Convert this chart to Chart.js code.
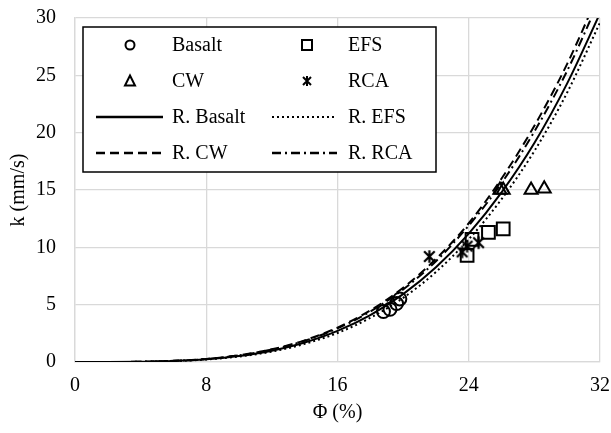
<!DOCTYPE html>
<html>
<head>
<meta charset="utf-8">
<script src="https://cdn.jsdelivr.net/npm/chart.js@4/dist/chart.umd.min.js"></script>
<style>
  html, body { margin: 0; padding: 0; background: #fff; font-family: "Liberation Serif", serif; }
  #wrap { width: 611px; height: 433px; position: relative; }
</style>
</head>
<body>
<div id="wrap"><canvas id="c" width="611" height="433"></canvas></div>
<script>
// ---- data ----
const basaltPhi = [18.8, 19.2, 19.6, 19.8];
const basaltK   = [4.4, 4.6, 5.1, 5.5];
const efsPhi    = [23.9, 24.2, 25.2, 26.1];
const efsK      = [9.3, 10.7, 11.3, 11.6];
const cwPhi     = [25.9, 26.1, 27.8, 28.6];
const cwK       = [15.0, 15.0, 15.0, 15.1];
const rcaPhi    = [21.6, 23.6, 23.9, 24.6];
const rcaK      = [9.2, 9.6, 10.1, 10.4];

// regression curves
const curvePhi   = [0, 2, 4, 6, 8, 10, 12, 14, 16, 18, 20, 22, 24, 26, 28, 30, 32];
const rBasaltK   = [0, 0.00, 0.02, 0.09, 0.24, 0.52, 0.99, 1.70, 2.71, 4.09, 5.92, 8.26, 11.2, 14.8, 19.1, 24.3, 30.4];
const rEfsK      = [0, 0.00, 0.02, 0.08, 0.22, 0.48, 0.91, 1.58, 2.53, 3.85, 5.59, 7.85, 10.7, 14.2, 18.4, 23.5, 29.6];
const rCwK       = [0, 0.00, 0.03, 0.10, 0.27, 0.59, 1.11, 1.89, 3.00, 4.50, 6.47, 8.99, 12.1, 16.0, 20.6, 26.0, 32.4];
const rRcaK      = [0, 0.00, 0.02, 0.10, 0.26, 0.58, 1.09, 1.85, 2.93, 4.40, 6.33, 8.79, 11.9, 15.6, 20.1, 25.4, 31.7];

const xTicks = [0, 8, 16, 24, 32];
const yTicks = [0, 5, 10, 15, 20, 25, 30];
const xTitle = 'Φ (%)';
const yTitle = 'k (mm/s)';
const legendLabels = ['Basalt', 'EFS', 'CW', 'RCA', 'R. Basalt', 'R. EFS', 'R. CW', 'R. RCA'];

const FONT = "'Liberation Serif', 'Times New Roman', serif";

function pts(xs, ys) { return xs.map((x, i) => ({ x: x, y: ys[i] })); }

function starCanvas(size, lw) {
  const c = document.createElement('canvas');
  c.width = size; c.height = size;
  const g = c.getContext('2d');
  g.strokeStyle = '#000'; g.lineWidth = lw;
  const m = lw, s = size - lw;
  g.beginPath();
  g.moveTo(m, m); g.lineTo(s, s);
  g.moveTo(s, m); g.lineTo(m, s);
  g.moveTo(size / 2, m - 1); g.lineTo(size / 2, s + 1);
  g.stroke();
  return c;
}

const lineBase = { showLine: true, pointRadius: 0, borderColor: '#000', borderWidth: 2, fill: false, cubicInterpolationMode: 'monotone' };
const ptBase = { showLine: false, borderColor: '#000', backgroundColor: 'rgba(0,0,0,0)', pointBorderWidth: 2, pointHoverRadius: 0 };

const dashes = { solid: [], dotted: [2, 3], dashed: [9, 5], dashdot: [9, 4, 2, 4] };

const legendPlugin = {
  id: 'boxLegend',
  afterDraw(chart) {
    const ctx = chart.ctx;
    const L = 83, T = 27, R = 436, B = 172;
    ctx.save();
    ctx.fillStyle = '#fff';
    ctx.fillRect(L, T, R - L, B - T);
    ctx.strokeStyle = '#000';
    ctx.lineWidth = 1.5;
    ctx.strokeRect(L, T, R - L, B - T);
    const rows = [45, 81, 117, 153];
    const cols = [{ sym: 130, l0: 96, l1: 163, tx: 172 }, { sym: 307, l0: 272, l1: 337, tx: 348 }];
    const items = [
      { kind: 'circle' }, { kind: 'rect' }, { kind: 'tri' }, { kind: 'star' },
      { kind: 'line', dash: dashes.solid, w: 2.5 }, { kind: 'line', dash: dashes.dotted, w: 2 },
      { kind: 'line', dash: dashes.dashed, w: 2.5 }, { kind: 'line', dash: dashes.dashdot, w: 2.5 }
    ];
    ctx.font = '20px ' + FONT;
    ctx.textBaseline = 'middle';
    ctx.textAlign = 'left';
    items.forEach((it, i) => {
      const r = rows[Math.floor(i / 2)], c = cols[i % 2];
      ctx.strokeStyle = '#000';
      ctx.setLineDash([]);
      ctx.lineWidth = 2;
      ctx.beginPath();
      if (it.kind === 'circle') {
        ctx.arc(c.sym, r, 4.5, 0, Math.PI * 2);
        ctx.stroke();
      } else if (it.kind === 'rect') {
        ctx.strokeRect(c.sym - 5, r - 5, 10, 10);
      } else if (it.kind === 'tri') {
        ctx.moveTo(c.sym, r - 5.5); ctx.lineTo(c.sym + 5, r + 4.5); ctx.lineTo(c.sym - 5, r + 4.5); ctx.closePath();
        ctx.stroke();
      } else if (it.kind === 'star') {
        ctx.moveTo(c.sym - 4, r - 4); ctx.lineTo(c.sym + 4, r + 4);
        ctx.moveTo(c.sym + 4, r - 4); ctx.lineTo(c.sym - 4, r + 4);
        ctx.moveTo(c.sym, r - 5); ctx.lineTo(c.sym, r + 5);
        ctx.stroke();
      } else {
        ctx.lineWidth = it.w;
        ctx.setLineDash(it.dash);
        ctx.moveTo(c.l0, r); ctx.lineTo(c.l1, r);
        ctx.stroke();
        ctx.setLineDash([]);
      }
      ctx.fillStyle = '#000';
      ctx.fillText(legendLabels[i], c.tx, r + 1);
    });
    ctx.restore();
  }
};

function build() {
  const starBig = starCanvas(15, 2.2);
  new Chart(document.getElementById('c'), {
    type: 'scatter',
    data: {
      datasets: [
        Object.assign({ label: legendLabels[4], data: pts(curvePhi, rBasaltK), borderDash: dashes.solid }, lineBase),
        Object.assign({ label: legendLabels[5], data: pts(curvePhi, rEfsK), borderDash: dashes.dotted }, lineBase),
        Object.assign({ label: legendLabels[6], data: pts(curvePhi, rCwK), borderDash: dashes.dashed }, lineBase),
        Object.assign({ label: legendLabels[7], data: pts(curvePhi, rRcaK), borderDash: dashes.dashdot }, lineBase),
        Object.assign({ label: legendLabels[0], data: pts(basaltPhi, basaltK), pointStyle: 'circle', pointRadius: 6.5 }, ptBase),
        Object.assign({ label: legendLabels[1], data: pts(efsPhi, efsK), pointStyle: 'rect', pointRadius: 9 }, ptBase),
        Object.assign({ label: legendLabels[2], data: pts(cwPhi, cwK), pointStyle: 'triangle', pointRadius: 7.5 }, ptBase),
        Object.assign({ label: legendLabels[3], data: pts(rcaPhi, rcaK), pointStyle: starBig, pointRadius: 7 }, ptBase)
      ]
    },
    options: {
      responsive: false,
      animation: false,
      events: [],
      layout: { padding: { top: 18, right: 11, left: 0, bottom: 0 } },
      plugins: { legend: { display: false }, tooltip: { enabled: false } },
      scales: {
        x: {
          type: 'linear', min: 0, max: 32,
          afterBuildTicks: s => { s.ticks = xTicks.map(v => ({ value: v })); },
          afterFit: s => { s.height = 71; s.paddingLeft = 0; s.paddingRight = 0; },
          grid: { color: '#d9d9d9', lineWidth: 1.3, drawTicks: false },
          border: { color: '#d9d9d9', width: 1.3 },
          ticks: { color: '#000', font: { family: FONT, size: 20 }, padding: 12, maxRotation: 0 },
          title: { display: true, text: xTitle, color: '#000', font: { family: FONT, size: 20 }, padding: { top: 0, bottom: 8 } }
        },
        y: {
          type: 'linear', min: 0, max: 30,
          afterBuildTicks: s => { s.ticks = yTicks.map(v => ({ value: v })); },
          afterFit: s => { s.width = 75; s.paddingTop = 0; s.paddingBottom = 0; },
          grid: { color: '#d9d9d9', lineWidth: 1.3, drawTicks: false },
          border: { color: '#d9d9d9', width: 1.3 },
          ticks: { color: '#000', font: { family: FONT, size: 20 }, padding: 19 },
          title: { display: true, text: yTitle, color: '#000', font: { family: FONT, size: 20 }, padding: { top: 7, bottom: 0 } }
        }
      }
    },
    plugins: [legendPlugin]
  });
}

if (document.fonts && document.fonts.load) {
  document.fonts.load("20px 'Liberation Serif'").then(build, build);
} else {
  build();
}
</script>
</body>
</html>
